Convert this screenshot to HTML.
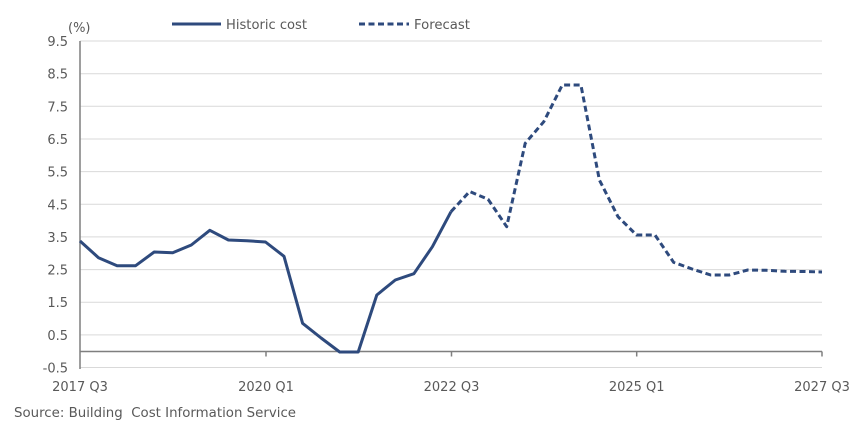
<!DOCTYPE html>
<html>
<head>
<meta charset="utf-8">
<style>
  html,body{margin:0;padding:0;background:#fff;}
  svg{display:block;}
  text{font-family:"DejaVu Sans","Liberation Sans",sans-serif;fill:#595959;}
</style>
</head>
<body>
<svg width="866" height="431" viewBox="0 0 866 431" xmlns="http://www.w3.org/2000/svg">
  <rect width="866" height="431" fill="#fff"/>
  <!-- gridlines -->
  <g stroke="#d9d9d9" stroke-width="1">
    <line x1="80" y1="41" x2="822" y2="41"/>
    <line x1="80" y1="73.7" x2="822" y2="73.7"/>
    <line x1="80" y1="106.3" x2="822" y2="106.3"/>
    <line x1="80" y1="139" x2="822" y2="139"/>
    <line x1="80" y1="171.6" x2="822" y2="171.6"/>
    <line x1="80" y1="204.3" x2="822" y2="204.3"/>
    <line x1="80" y1="236.9" x2="822" y2="236.9"/>
    <line x1="80" y1="269.6" x2="822" y2="269.6"/>
    <line x1="80" y1="302.2" x2="822" y2="302.2"/>
    <line x1="80" y1="334.9" x2="822" y2="334.9"/>
    <line x1="80" y1="367.5" x2="822" y2="367.5"/>
  </g>
  <!-- y axis -->
  <line x1="80" y1="41" x2="80" y2="369" stroke="#7f7f7f" stroke-width="1.5"/>
  <!-- zero axis -->
  <line x1="80" y1="351.5" x2="822" y2="351.5" stroke="#7f7f7f" stroke-width="1.5"/>
  <g stroke="#7f7f7f" stroke-width="1.5">
    <line x1="266" y1="351.5" x2="266" y2="356.5"/>
    <line x1="451.5" y1="351.5" x2="451.5" y2="356.5"/>
    <line x1="636.7" y1="351.5" x2="636.7" y2="356.5"/>
    <line x1="822" y1="351.5" x2="822" y2="356.5"/>
  </g>
  <!-- y labels -->
  <g font-size="13" text-anchor="end">
    <text x="68" y="46">9.5</text>
    <text x="68" y="78.7">8.5</text>
    <text x="68" y="111.3">7.5</text>
    <text x="68" y="144">6.5</text>
    <text x="68" y="176.6">5.5</text>
    <text x="68" y="209.3">4.5</text>
    <text x="68" y="241.9">3.5</text>
    <text x="68" y="274.6">2.5</text>
    <text x="68" y="307.2">1.5</text>
    <text x="68" y="339.9">0.5</text>
    <text x="68" y="372.5">-0.5</text>
  </g>
  <text x="68" y="32" font-size="13">(%)</text>
  <!-- x labels -->
  <g font-size="13" text-anchor="middle">
    <text x="80" y="391">2017 Q3</text>
    <text x="266" y="391">2020 Q1</text>
    <text x="451.5" y="391">2022 Q3</text>
    <text x="636.7" y="391">2025 Q1</text>
    <text x="822" y="391">2027 Q3</text>
  </g>
  <text x="14" y="417" font-size="13" style="white-space:pre" textLength="282" lengthAdjust="spacingAndGlyphs">Source: Building  Cost Information Service</text>
  <!-- legend -->
  <line x1="172" y1="24" x2="221" y2="24" stroke="#2e4a7d" stroke-width="3"/>
  <text x="226" y="29" font-size="13" textLength="81" lengthAdjust="spacingAndGlyphs">Historic cost</text>
  <line x1="359" y1="24" x2="409" y2="24" stroke="#2e4a7d" stroke-width="3" stroke-dasharray="6,3.5"/>
  <text x="414" y="29" font-size="13" textLength="56" lengthAdjust="spacingAndGlyphs">Forecast</text>
  <!-- series -->
  <polyline fill="none" stroke="#2e4a7d" stroke-width="3" stroke-linejoin="round"
    points="80,241 98.5,257.7 117.1,265.7 135.6,265.7 154.2,252 172.7,252.7 191.3,245 209.8,230.3 228.4,240 246.9,240.7 265.5,242 284,256.3 302.6,323.3 321.1,338 339.7,352 358.2,352 376.8,295 395.3,280 413.9,273.7 432.4,246.7 451,211.7"/>
  <polyline fill="none" stroke="#2e4a7d" stroke-width="3" stroke-linejoin="round" stroke-dasharray="6,3.5"
    points="451,211.7 469.6,191.5 488.1,199.3 506.7,226.7 525.2,143.3 543.8,121.7 562.3,85 580.9,85 599.4,180 618,216.7 636.5,235 655,235 673.6,262.3 692.1,269 710.7,275 729.2,275 747.8,270 766.3,270.3 784.9,271.3 803.4,271.5 822,272"/>
</svg>
</body>
</html>
